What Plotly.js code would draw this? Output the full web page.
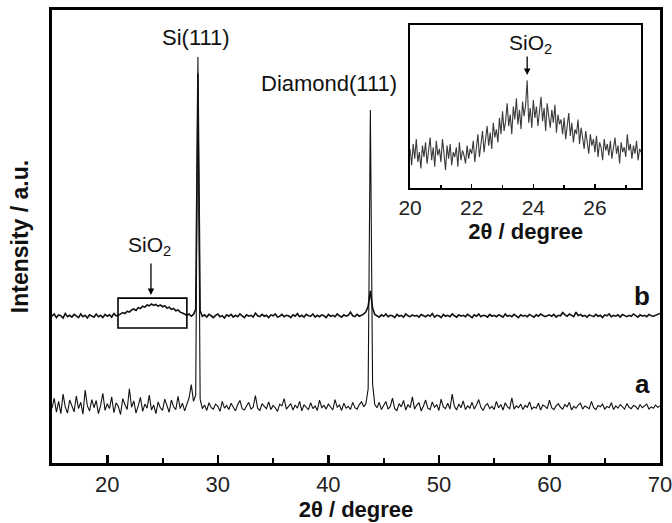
<!DOCTYPE html>
<html><head><meta charset="utf-8">
<script src="https://cdn.plot.ly/plotly-3.0.1.min.js"></script>
<style>html,body{margin:0;padding:0;background:#fff;}#chart{width:672px;height:523px;}</style>
</head><body><div id="chart"></div>
<script>
// sampling grid of the main patterns (2θ, degrees)
const mainStart = 15, mainStep = 0.2;
// pattern a (lower curve)
const curveA = [
12.1,14.3,11.2,13.6,10.9,15.2,12.4,11.0,13.9,12.8,
11.3,14.8,12.0,13.4,10.8,16.1,12.6,11.5,14.0,12.2,
13.8,10.9,12.7,15.4,11.6,13.1,12.0,14.6,11.1,13.3,
12.5,10.7,14.2,12.9,11.8,16.4,12.3,13.7,11.0,12.6,
14.5,11.4,13.0,12.1,15.0,11.7,12.8,10.9,13.5,12.2,
11.6,14.1,12.7,11.2,13.9,12.4,11.8,14.7,12.0,13.2,
11.5,12.9,14.4,17.3,13.6,15.0,
89.6,
14.1,12.0,12.8,11.6,13.3,12.2,11.9,13.0,12.5,11.4,
13.6,12.1,12.7,11.8,13.2,12.4,11.5,12.9,13.8,12.0,
11.7,12.6,13.4,11.9,12.3,14.9,12.1,11.6,13.1,12.5,
12.0,13.5,11.8,12.7,12.2,11.4,13.0,12.6,14.2,11.9,
12.4,13.1,11.7,12.8,12.1,13.6,11.5,12.9,12.3,11.8,
13.3,12.0,12.6,11.6,13.9,12.2,12.7,11.9,13.0,12.4,
11.7,14.0,12.3,12.8,11.6,13.2,12.1,12.5,11.8,13.4,
12.2,11.9,12.9,13.5,12.4,13.1,16.4,
77.9,
17.5,12.9,12.2,13.4,11.8,12.7,13.6,11.9,12.5,14.3,
12.0,11.6,13.1,12.4,13.8,11.7,12.9,12.2,14.6,11.9,
12.8,13.3,11.5,12.6,13.9,12.1,11.8,13.5,12.3,12.9,
11.6,14.1,12.4,12.0,13.2,11.9,15.2,12.5,11.7,13.0,
12.2,13.7,11.8,12.6,12.1,13.4,11.9,12.8,14.0,12.3,
11.6,12.7,13.1,12.0,12.5,11.8,13.6,12.2,12.9,11.7,
13.3,12.4,12.0,14.4,11.9,12.6,12.2,13.0,11.8,12.7,
12.3,13.5,11.9,12.4,12.1,13.2,11.7,12.8,12.5,12.0,
13.9,12.2,11.8,12.6,13.1,12.3,11.9,12.9,12.4,13.4,
11.7,12.5,12.1,12.8,13.2,11.9,12.6,12.3,12.0,13.6,
12.2,11.8,12.7,12.4,13.0,11.9,12.5,12.2,13.3,11.8,
12.6,12.1,12.9,12.4,11.9,13.1,12.3,12.0,12.7,12.5,
11.8,12.9,12.2,12.6,13.0,11.9,12.4,12.1,12.8,12.3,
12.6
];
// pattern b (upper curve)
const curveB = [
32.4,32.9,32.1,32.7,32.5,32.0,33.0,32.3,32.6,32.2,
32.8,32.4,32.1,32.9,32.3,32.6,32.0,32.7,32.5,32.2,
32.9,32.3,32.6,32.1,32.8,32.4,32.7,32.2,33.0,32.5,
32.6,32.9,33.2,33.0,33.5,33.3,33.8,34.0,33.7,34.3,
34.1,34.6,34.4,34.9,34.7,35.1,34.8,35.0,34.6,34.9,
34.5,34.7,34.2,34.4,33.9,34.1,33.6,33.8,33.3,33.1,
32.8,32.6,32.9,32.4,32.8,33.9,
86.0,
33.6,32.4,32.7,32.2,32.8,32.5,32.1,32.6,32.9,32.3,
32.5,32.0,32.7,32.4,32.8,32.2,32.6,32.3,32.9,32.5,
32.1,32.7,32.4,32.6,32.2,33.1,32.5,32.3,32.8,32.4,
32.6,32.1,32.7,32.5,32.9,32.2,32.4,32.8,32.3,32.6,
32.5,32.1,32.7,32.4,33.0,32.3,32.6,32.2,32.8,32.5,
32.4,32.9,32.2,32.6,32.3,32.7,32.5,32.1,32.8,32.4,
32.6,32.3,32.9,32.5,32.2,32.7,32.4,32.6,33.3,32.5,
32.3,32.8,32.4,32.6,32.9,33.4,34.6,
38.0,
34.2,32.8,32.5,32.2,32.7,32.4,32.9,32.3,32.6,32.5,
32.1,32.8,32.4,32.6,32.2,32.9,32.5,32.3,32.7,32.4,
32.6,32.2,32.8,32.5,32.3,32.7,32.4,33.0,32.2,32.6,
32.5,32.1,32.8,32.4,32.6,32.3,32.9,32.5,32.2,32.7,
32.4,32.6,32.3,32.8,32.5,32.1,32.7,32.4,32.9,32.3,
32.6,32.5,32.2,32.8,32.4,32.6,32.3,32.7,32.5,32.2,
32.9,32.4,32.6,32.3,32.8,32.5,32.1,32.7,32.4,32.6,
32.3,32.8,32.5,32.2,32.7,32.4,32.9,32.6,32.3,32.5,
32.7,32.4,32.8,32.2,32.6,32.5,33.2,32.7,32.4,32.9,
32.6,32.3,33.3,32.5,32.8,32.4,32.6,32.2,32.7,32.5,
32.3,32.8,32.4,32.6,32.1,32.7,32.5,32.9,32.3,32.6,
32.4,32.7,32.2,32.8,32.5,32.3,32.6,32.4,32.9,32.5,
32.2,32.7,32.4,32.6,32.3,32.8,32.5,32.4,32.6,32.7,
33.0
];
// inset: enlarged SiO2 region of pattern b (20–27.5°)
const insetStart = 20, insetStep = 0.05;
const insetY = [
24,14,27,18,30,16,22,12,26,19,
28,15,23,31,17,25,13,29,20,24,
16,30,21,11,26,18,27,14,22,19,
25,13,28,17,23,20,15,26,18,24,
21,29,16,25,33,19,27,35,22,30,
38,26,34,24,40,31,36,28,43,33,
47,35,41,52,38,45,33,50,42,55,
39,48,36,53,44,51,66,40,49,37,
54,43,50,38,47,56,41,49,35,52,
44,37,48,40,51,34,45,39,42,33,
43,30,38,46,32,40,28,36,33,42,
27,37,31,24,35,29,21,33,26,30,
22,32,19,28,25,17,30,23,27,20,
29,18,24,31,21,26,15,28,22,25,
19,33,23,27,18,26,21,29,17,24,22
];
const mainTicks = [20,30,40,50,60,70];
const insetTicks = [20,22,24,26];
const seriesNames = ['a','b'];

const xMain = curveA.map((_, i) => +(mainStart + i * mainStep).toFixed(2));
const xInset = insetY.map((_, i) => +(insetStart + i * insetStep).toFixed(2));

const FONT = 'Liberation Sans, Arial, sans-serif';

const traces = [
  {x: xMain, y: curveA, type: 'scatter', mode: 'lines', name: seriesNames[0],
   line: {color: '#111', width: 1.1}, xaxis: 'x', yaxis: 'y'},
  {x: xMain, y: curveB, type: 'scatter', mode: 'lines', name: seriesNames[1],
   line: {color: '#111', width: 1.6}, xaxis: 'x', yaxis: 'y'},
  {x: xInset, y: insetY, type: 'scatter', mode: 'lines', name: 'inset',
   line: {color: '#3a3a3a', width: 1.1}, xaxis: 'x2', yaxis: 'y2'}
];

const layout = {
  width: 672, height: 523,
  margin: {l: 52, r: 12, t: 10, b: 60},
  paper_bgcolor: '#fff', plot_bgcolor: '#fff',
  showlegend: false,
  font: {family: FONT, color: '#111'},
  xaxis: {
    range: [15, 70], tickvals: mainTicks, ticktext: mainTicks.map(String),
    ticks: 'inside', ticklen: 8, tickwidth: 2.5, tickcolor: '#000',
    minor: {dtick: 5, tick0: 0, ticks: 'inside', ticklen: 5, tickwidth: 2, tickcolor: '#000'},
    showline: true, linewidth: 3, linecolor: '#000', mirror: true,
    showgrid: false, zeroline: false, ticklabeloverflow: 'allow',
    tickfont: {size: 22, family: FONT, color: '#222'},
    title: {text: '<b>2θ / degree</b>', font: {size: 22, family: FONT, color: '#111'}, standoff: 4}
  },
  yaxis: {
    range: [0, 100], showticklabels: false, ticks: '',
    showline: true, linewidth: 3, linecolor: '#000', mirror: true,
    showgrid: false, zeroline: false,
    title: {text: '<b>Intensity / a.u.</b>', font: {size: 23, family: FONT, color: '#111'}, standoff: 14}
  },
  xaxis2: {
    domain: [0.589, 0.969], anchor: 'y2', range: [20, 27.5],
    tickvals: insetTicks, ticktext: insetTicks.map(String),
    ticks: 'inside', ticklen: 4, tickwidth: 1.5, tickcolor: '#000',
    minor: {dtick: 1, tick0: 0, ticks: 'inside', ticklen: 3, tickwidth: 1.5, tickcolor: '#000'},
    showline: true, linewidth: 2, linecolor: '#000', mirror: true,
    showgrid: false, zeroline: false, ticklabeloverflow: 'allow',
    tickfont: {size: 21, family: FONT, color: '#222'},
    title: {text: '<b>2θ / degree</b>', font: {size: 22, family: FONT, color: '#111'}, standoff: 2}
  },
  yaxis2: {
    domain: [0.607, 0.967], anchor: 'x2', range: [0, 100],
    showticklabels: false, ticks: '',
    showline: true, linewidth: 2, linecolor: '#000', mirror: true,
    showgrid: false, zeroline: false
  },
  shapes: [
    {type: 'rect', xref: 'x', yref: 'y', x0: 20.97, x1: 27.2, y0: 29.8, y1: 36.4,
     line: {color: '#000', width: 1.6}, fillcolor: 'rgba(0,0,0,0)'}
  ],
  annotations: [
    {x: 28.0, y: 93.9, xref: 'x', yref: 'y', text: 'Si(111)', showarrow: false,
     font: {size: 22, family: FONT, color: '#111'}},
    {x: 40.1, y: 83.7, xref: 'x', yref: 'y', text: 'Diamond(111)', showarrow: false,
     font: {size: 22, family: FONT, color: '#111'}},
    {x: 23.8, y: 47.9, xref: 'x', yref: 'y', text: 'SiO<sub>2</sub>', showarrow: false,
     font: {size: 21, family: FONT, color: '#111'}},
    {x: 23.95, y: 37.1, xref: 'x', yref: 'y', text: '', showarrow: true, ax: 0, ay: -33,
     arrowhead: 2, arrowsize: 1, arrowwidth: 1.3, arrowcolor: '#000'},
    {x: 68.4, y: 36.9, xref: 'x', yref: 'y', text: '<b>b</b>', showarrow: false,
     font: {size: 26, family: FONT, color: '#111'}},
    {x: 68.4, y: 17.4, xref: 'x', yref: 'y', text: '<b>a</b>', showarrow: false,
     font: {size: 26, family: FONT, color: '#111'}},
    {x: 23.9, y: 88.3, xref: 'x2', yref: 'y2', text: 'SiO<sub>2</sub>', showarrow: false,
     font: {size: 21, family: FONT, color: '#111'}},
    {x: 23.8, y: 69.3, xref: 'x2', yref: 'y2', text: '', showarrow: true, ax: 0, ay: -20,
     arrowhead: 2, arrowsize: 1, arrowwidth: 1.3, arrowcolor: '#000'}
  ]
};

Plotly.newPlot('chart', traces, layout, {displayModeBar: false, staticPlot: true});
</script>
</body></html>
